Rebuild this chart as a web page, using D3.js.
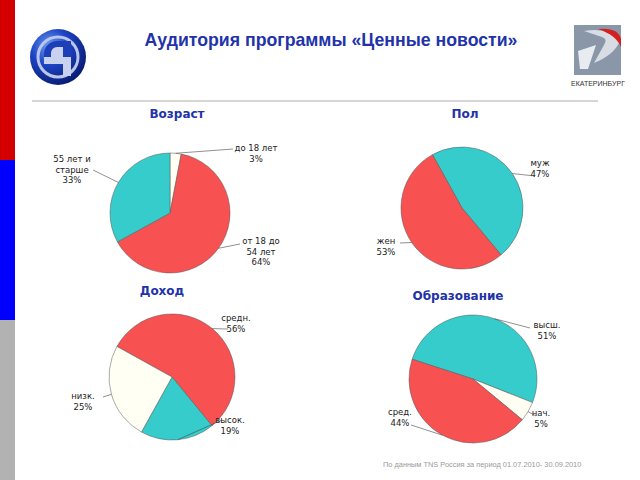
<!DOCTYPE html>
<html>
<head>
<meta charset="utf-8">
<script src="https://cdn.jsdelivr.net/npm/d3@7"></script>
<style>
  html, body { margin: 0; padding: 0; background: #fff; }
  svg { display: block; }
</style>
</head>
<body>
<svg id="chart" width="640" height="480"></svg>
<script>
"use strict";

// Data
const ageLabels    = ['до 18 лет', 'от 18 до 54 лет', '55 лет и старше'];
const ageValues    = [3, 64, 33];
const sexLabels    = ['муж', 'жен'];
const sexValues    = [47, 53];
const incomeLabels = ['средн.', 'высок.', 'низк.'];
const incomeValues = [56, 19, 25];
const eduLabels    = ['высш.', 'нач.', 'сред.'];
const eduValues    = [51, 5, 44];

const COL_RED   = '#f85151';
const COL_TEAL  = '#35cccb';
const COL_WHITE = '#fffff4';
const BLUE      = '#2233aa';

const svg = d3.select('#chart');

// side stripes
const stripes = [['#d40000', 0], ['#0000ff', 160], ['#b2b2b2', 320]];
svg.selectAll('rect.stripe').data(stripes).enter().append('rect')
  .attr('class', 'stripe')
  .attr('x', 0).attr('y', d => d[1]).attr('width', 15).attr('height', 160)
  .attr('fill', d => d[0]);

// header
svg.append('text')
  .attr('x', 331).attr('y', 46).attr('text-anchor', 'middle')
  .attr('font-family', "'Liberation Sans', Arial, sans-serif")
  .attr('font-weight', 700).attr('font-size', '17.7px').attr('fill', BLUE)
  .text('Аудитория программы «Ценные новости»');

svg.append('line')
  .attr('x1', 32).attr('x2', 598).attr('y1', 101).attr('y2', 101)
  .attr('stroke', '#c8c8c8').attr('stroke-width', 1.5);

// left logo (channel 4)
const defs = svg.append('defs');
const grad = defs.append('radialGradient').attr('id', 'ball').attr('cx', '35%').attr('cy', '30%').attr('r', '75%');
grad.append('stop').attr('offset', '0%').attr('stop-color', '#6f9cf5');
grad.append('stop').attr('offset', '45%').attr('stop-color', '#1d44c4');
grad.append('stop').attr('offset', '100%').attr('stop-color', '#081a70');
const logo = svg.append('g').attr('transform', 'translate(58,57)');
logo.append('circle').attr('r', 28).attr('fill', 'url(#ball)');
logo.append('circle').attr('r', 20).attr('fill', 'none').attr('stroke', '#b9c6ea').attr('stroke-width', 3);
logo.append('path')
  .attr('d', 'M-14,7 L-14,-3 A13,13 0 0 1 -1,-16 L13,-16 L13,7 Z')
  .attr('fill', '#1d3fb8');
logo.append('path')
  .attr('d', 'M-14,7 L13,7 L13,0 L5,0 L5,-10 L-1,-10 A6,6 0 0 0 -7,-4 L-7,0 L-14,0 Z')
  .attr('fill', '#c8d2ee');
logo.append('rect').attr('x', 5).attr('y', 7).attr('width', 8).attr('height', 12).attr('fill', '#c8d2ee');

// right logo (Ekaterinburg)
const rl = svg.append('g').attr('transform', 'translate(574,25)');
rl.append('rect').attr('width', 47).attr('height', 50).attr('fill', '#8a97a8');
rl.append('path')
  .attr('d', 'M10,6 Q36,2 46,16 Q40,30 20,38 L30,20 Q34,14 28,12 Z')
  .attr('fill', '#d8dde4');
rl.append('path')
  .attr('d', 'M24,4 Q44,2 47,14 L47,22 Q42,10 24,4 Z')
  .attr('fill', '#d42020');
rl.append('path')
  .attr('d', 'M4,26 L22,20 L14,44 L6,44 Z')
  .attr('fill', '#e8ebef');
rl.append('text').attr('x', 24).attr('y', 61).attr('text-anchor', 'middle')
  .attr('font-family', "'Liberation Sans Narrow', 'Liberation Sans', sans-serif")
  .attr('font-size', '7px').attr('fill', '#333')
  .text('ЕКАТЕРИНБУРГ');

// pies
const charts = [
  { title: 'Возраст', tx: 177, ty: 118, cx: 170, cy: 213, r: 60, start: 0,
    labels: ageLabels, values: ageValues, colors: [COL_WHITE, COL_RED, COL_TEAL],
    text: [
      { x: 256, y: 151, lines: ['до 18 лет', '3%'], ex: 233, ey: 149 },
      { x: 261, y: 244, lines: ['от 18 до', '54 лет', '64%'], ex: 240, ey: 244 },
      { x: 72,  y: 162, lines: ['55 лет и', 'старше', '33%'], ex: 93, ey: 170 }
    ] },
  { title: 'Пол', tx: 465, ty: 118, cx: 462, cy: 208, r: 61, start: -29,
    labels: sexLabels, values: sexValues, colors: [COL_TEAL, COL_RED],
    text: [
      { x: 540, y: 166, lines: ['муж', '47%'], ex: 535, ey: 176 },
      { x: 386, y: 244, lines: ['жен', '53%'], ex: 400, ey: 243 }
    ] },
  { title: 'Доход', tx: 162, ty: 295, cx: 172, cy: 377, r: 63, start: -61,
    labels: incomeLabels, values: incomeValues, colors: [COL_RED, COL_TEAL, COL_WHITE],
    text: [
      { x: 236, y: 321, lines: ['средн.', '56%'], ex: 228, ey: 329 },
      { x: 230, y: 423, lines: ['высок.', '19%'], ex: 222, ey: 420 },
      { x: 83,  y: 399, lines: ['низк.', '25%'], ex: 103, ey: 397 }
    ] },
  { title: 'Образование', tx: 458, ty: 300, cx: 473, cy: 379, r: 64, start: -72,
    labels: eduLabels, values: eduValues, colors: [COL_TEAL, COL_WHITE, COL_RED],
    text: [
      { x: 547, y: 328, lines: ['высш.', '51%'], ex: 530, ey: 328 },
      { x: 541, y: 416, lines: ['нач.', '5%'], ex: 536, ey: 416 },
      { x: 400, y: 415, lines: ['сред.', '44%'], ex: 411, ey: 425 }
    ] }
];

charts.forEach(c => {
  const g = svg.append('g');
  g.append('text')
    .attr('x', c.tx).attr('y', c.ty).attr('text-anchor', 'middle')
    .attr('font-family', "'DejaVu Sans', Verdana, sans-serif")
    .attr('font-weight', 700).attr('font-size', '12px').attr('fill', BLUE)
    .text(c.title);

  const a0 = c.start * Math.PI / 180;
  const pie = d3.pie().sort(null).value(d => d).startAngle(a0).endAngle(a0 + 2 * Math.PI);
  const arcs = pie(c.values);
  const arc = d3.arc().innerRadius(0).outerRadius(c.r);
  const edge = d3.arc().innerRadius(c.r).outerRadius(c.r);

  const pg = g.append('g').attr('transform', 'translate(' + c.cx + ',' + c.cy + ')');
  pg.selectAll('path').data(arcs).enter().append('path')
    .attr('d', arc)
    .attr('fill', (d, i) => c.colors[i])
    .attr('stroke', '#555').attr('stroke-width', 0.5);

  arcs.forEach((d, i) => {
    const t = c.text[i];
    const p = edge.centroid(d);
    g.append('line')
      .attr('x1', c.cx + p[0]).attr('y1', c.cy + p[1])
      .attr('x2', t.ex).attr('y2', t.ey)
      .attr('stroke', '#444').attr('stroke-width', 0.6);
    const txt = g.append('text')
      .attr('text-anchor', 'middle')
      .attr('font-family', "'DejaVu Sans', Verdana, sans-serif")
      .attr('font-size', '8.5px').attr('fill', '#222');
    t.lines.forEach((ln, k) => {
      txt.append('tspan').attr('x', t.x).attr('y', t.y + k * 10.5).text(ln);
    });
  });
});

// footer
svg.append('text')
  .attr('x', 383).attr('y', 467)
  .attr('font-family', "'Liberation Sans', Arial, sans-serif")
  .attr('font-size', '7.4px').attr('fill', '#9a9a9a')
  .text('По данным TNS Россия за период 01.07.2010- 30.09.2010');
</script>
</body>
</html>
